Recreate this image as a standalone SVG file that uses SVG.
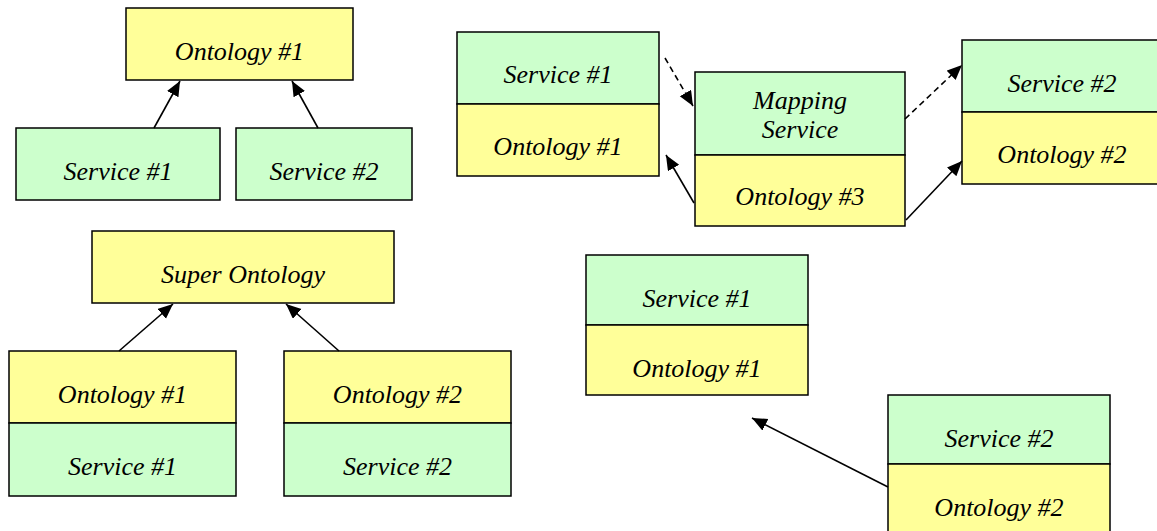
<svg xmlns="http://www.w3.org/2000/svg" width="1157" height="531" viewBox="0 0 1157 531">
<defs>
<marker id="ah" markerUnits="userSpaceOnUse" markerWidth="16" markerHeight="14" refX="15" refY="6.5" orient="auto">
<path d="M0,0 L15,6.5 L0,13 z" fill="#000"/>
</marker>
<style>
.g{fill:#CCFFCC;stroke:#000;stroke-width:1.5}
.y{fill:#FFFF99;stroke:#000;stroke-width:1.5}
.t{font-family:'Liberation Serif','DejaVu Serif',serif;font-style:italic;font-size:26px;fill:#000;text-anchor:middle}
.c{stroke:#000;stroke-width:1.6;fill:none;marker-end:url(#ah)}
.d{stroke-dasharray:6,4}
</style>
</defs>
<rect width="1157" height="531" fill="#fff"/>

<g class="t" font-family="Liberation Serif, DejaVu Serif, serif" font-style="italic">
<!-- Top-left -->
<g id="tl-ontology1"><rect class="y" x="126" y="8" width="227" height="72"/><text x="239.5" y="60">Ontology #1</text></g>
<g id="tl-service1"><rect class="g" x="16" y="128" width="204" height="72"/><text x="118" y="180">Service #1</text></g>
<g id="tl-service2"><rect class="g" x="236" y="128" width="176" height="72"/><text x="324" y="180">Service #2</text></g>

<!-- Bottom-left -->
<g id="bl-super"><rect class="y" x="92" y="231" width="302" height="72"/><text x="243" y="283">Super Ontology</text></g>
<g id="bl-os1"><rect class="y" x="9" y="351" width="227" height="72"/><text x="122.5" y="403">Ontology #1</text><rect class="g" x="9" y="423" width="227" height="73"/><text x="122.5" y="475">Service #1</text></g>
<g id="bl-os2"><rect class="y" x="284" y="351" width="227" height="72"/><text x="397.5" y="403">Ontology #2</text><rect class="g" x="284" y="423" width="227" height="73"/><text x="397.5" y="475">Service #2</text></g>

<!-- Top-right -->
<g id="tr-so1"><rect class="g" x="457" y="32" width="202" height="72"/><text x="558" y="83">Service #1</text><rect class="y" x="457" y="104" width="202" height="72"/><text x="558" y="155">Ontology #1</text></g>
<g id="tr-mapping"><rect class="g" x="695" y="72" width="210" height="83"/><text x="800" y="109">Mapping</text><text x="800" y="138">Service</text><rect class="y" x="695" y="155" width="210" height="71"/><text x="800" y="205">Ontology #3</text></g>
<g id="tr-so2"><rect class="g" x="962" y="40" width="200" height="72"/><text x="1062" y="92">Service #2</text><rect class="y" x="962" y="112" width="200" height="72"/><text x="1062" y="163">Ontology #2</text></g>

<!-- Bottom-right -->
<g id="br-so1"><rect class="g" x="586" y="255" width="222" height="70"/><text x="697" y="307">Service #1</text><rect class="y" x="586" y="325" width="222" height="70"/><text x="697" y="377">Ontology #1</text></g>
<g id="br-so2"><rect class="g" x="888" y="395" width="222" height="69"/><text x="999" y="447">Service #2</text><rect class="y" x="888" y="464" width="222" height="72"/><text x="999" y="516">Ontology #2</text></g>
</g>

<g id="connectors">
<line class="c" x1="154" y1="128" x2="180" y2="81"/>
<line class="c" x1="318" y1="128" x2="292" y2="81"/>
<line class="c" x1="119" y1="351" x2="173" y2="304"/>
<line class="c" x1="339" y1="351" x2="286" y2="304"/>
<line class="c d" x1="665" y1="58" x2="693" y2="106"/>
<line class="c d" x1="905" y1="119" x2="962" y2="65"/>
<line class="c" x1="694" y1="203" x2="666" y2="155"/>
<line class="c" x1="906" y1="220" x2="962" y2="161"/>
<line class="c" x1="888" y1="487" x2="752" y2="418"/>
</g>
</svg>
